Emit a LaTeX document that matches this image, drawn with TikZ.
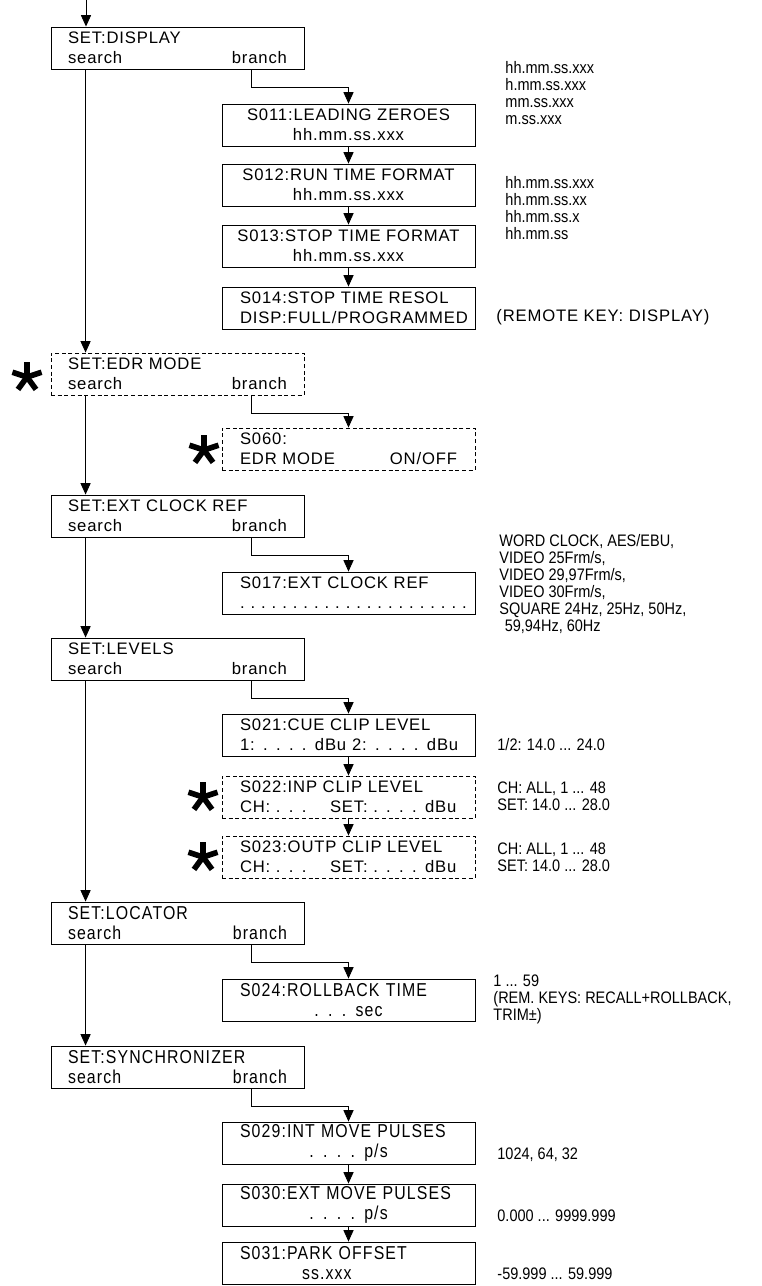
\documentclass[tikz,border=0pt]{standalone}
\usepackage{fontspec}
\setmainfont{Liberation Sans}
\newfontfamily\boxfont[LetterSpace=5]{Liberation Sans}
\newfontfamily\lowfont[FakeStretch=0.85,LetterSpace=6]{Liberation Sans}
\newfontfamily\notefont[FakeStretch=0.87]{Liberation Sans}
\usetikzlibrary{arrows.meta}

\begin{document}
\begin{tikzpicture}[x=0.75pt,y=-0.75pt,line width=0.65pt,
  box/.style={draw,rectangle,minimum width=189.75pt,minimum height=31.5pt,
    inner xsep=12.75pt,inner ysep=0pt,text width=164.25pt,align=left,
    font=\boxfont\fontsize{12.5}{15}\selectfont},
  sub/.style={box,inner xsep=13.5pt,text width=162.75pt},
  low/.style={font=\lowfont\fontsize{14}{15}\selectfont},
  optbox/.style={dash pattern=on 3pt off 2pt},
  flow/.style={-{Triangle[width=7.5pt,length=8.5pt]}},
  note/.style={anchor=north west,align=left,inner sep=0pt,
    font=\notefont\fontsize{12.5}{12.75}\selectfont},
  starmark/.pic={\foreach \a in {90,18,162,-54,-126}
    \draw[line width=4.2pt] (0,0) -- (\a:11.5pt);}]
  \useasboundingbox (0,0) rectangle (762,1286);
  \coordinate (start) at (86,0);
  \node[box] (disp) at (177.5,48) {SET:DISPLAY\\search\hfill branch};
  \node[sub,align=center] (s011) at (348.5,125) {S011:LEADING ZEROES\\hh.mm.ss.xxx};
  \node[sub,align=center] (s012) at (348.5,185) {S012:RUN TIME FORMAT\\hh.mm.ss.xxx};
  \node[sub,align=center] (s013) at (348.5,246) {\makebox[\linewidth]{S013:STOP TIME FORMAT}\\hh.mm.ss.xxx};
  \node[sub] (s014) at (348.5,308) {S014:STOP TIME RESOL\\\mbox{DISP:FULL/PROGRAMMED}};
  \node[box,optbox] (edr) at (177.5,374) {SET:EDR MODE\\search\hfill branch};
  \node[sub,optbox] (s060) at (348.5,449) {S060:\\EDR MODE\hfill ON/OFF};
  \node[box] (ext) at (177.5,516) {SET:EXT CLOCK REF\\search\hfill branch};
  \node[sub] (s017) at (348.5,593) {S017:EXT CLOCK REF\\\makebox[170pt]{.\foreach \i in {1,...,21}{\hfill.}}};
  \node[box] (lev) at (177.5,659) {SET:LEVELS\\search\hfill branch};
  \node[sub] (s021) at (348.5,735) {S021:CUE CLIP LEVEL\\\mbox{\makebox[84pt][l]{1: . . . . dBu}2: . . . . dBu}};
  \node[sub,optbox] (s022) at (348.5,797) {S022:INP CLIP LEVEL\\\mbox{\makebox[67.5pt][l]{CH: . . .}SET: . . . . dBu}};
  \node[sub,optbox] (s023) at (348.5,857) {S023:OUTP CLIP LEVEL\\\mbox{\makebox[67.5pt][l]{CH: . . .}SET: . . . . dBu}};
  \node[box,low] (loc) at (177.5,923) {SET:LOCATOR\\search\hfill branch};
  \node[sub,low] (s024) at (348.5,1000) {S024:ROLLBACK TIME\\\makebox[\linewidth]{. . . sec}};
  \node[box,low] (sync) at (177.5,1067) {SET:SYNCHRONIZER\\search\hfill branch};
  \node[sub,low] (s029) at (348.5,1143) {S029:INT MOVE PULSES\\\makebox[\linewidth]{. . . . p/s}};
  \node[sub,low] (s030) at (348.5,1205) {S030:EXT MOVE PULSES\\\makebox[\linewidth]{. . . . p/s}};
  \node[sub,low] (s031) at (348.5,1263) {S031:PARK OFFSET\\\hspace*{46.5pt}ss.xxx};

  \node[note] (n011) at (505,61) {hh.mm.ss.xxx\\h.mm.ss.xxx\\mm.ss.xxx\\m.ss.xxx};
  \node[note] (n012) at (505,176) {hh.mm.ss.xxx\\hh.mm.ss.xx\\hh.mm.ss.x\\hh.mm.ss};
  \node[note,font=\boxfont\fontsize{12.5}{15}\selectfont] (n014) at (496,309) {(REMOTE KEY: DISPLAY)};
  \node[note] (n017) at (499,534) {WORD CLOCK, AES/EBU,\\VIDEO 25Frm/s,\\VIDEO 29,97Frm/s,\\VIDEO 30Frm/s,\\SQUARE 24Hz, 25Hz, 50Hz,\\\hspace*{4pt}59,94Hz, 60Hz};
  \node[note] (n021) at (497,738) {1/2: 14.0 ... 24.0};
  \node[note] (n022) at (497,781) {CH: ALL, 1 ... 48\\SET: 14.0 ... 28.0};
  \node[note] (n023) at (497,842) {CH: ALL, 1 ... 48\\SET: 14.0 ... 28.0};
  \node[note] (n024) at (493,974) {1 ... 59\\(REM. KEYS: RECALL+ROLLBACK,\\TRIM±)};
  \node[note] (n029) at (497,1147) {1024, 64, 32};
  \node[note] (n030) at (497,1209) {0.000 ... 9999.999};
  \node[note] (n031) at (497,1267) {-59.999 ... 59.999};

  \pic at (27,377) {starmark};
  \pic at (204,450) {starmark};
  \pic at (203,797) {starmark};
  \pic at (203,857) {starmark};

  \draw[flow] (start) -- (start |- disp.north);
  \foreach \a/\b in {disp/edr,edr/ext,ext/lev,lev/loc,loc/sync}
    \draw[flow] ([xshift=26.25pt]\a.south west) -- ([xshift=26.25pt]\b.north west);
  \foreach \a/\b in {disp/s011,edr/s060,ext/s017,lev/s021,loc/s024,sync/s029}
    \draw[flow] ([xshift=150.75pt]\a.south west) -- ++(0,18) -| (\b.north);
  \foreach \a/\b in {s011/s012,s012/s013,s013/s014,s021/s022,s022/s023,s029/s030,s030/s031}
    \draw[flow] (\a) -- (\b);
\end{tikzpicture}
\end{document}
